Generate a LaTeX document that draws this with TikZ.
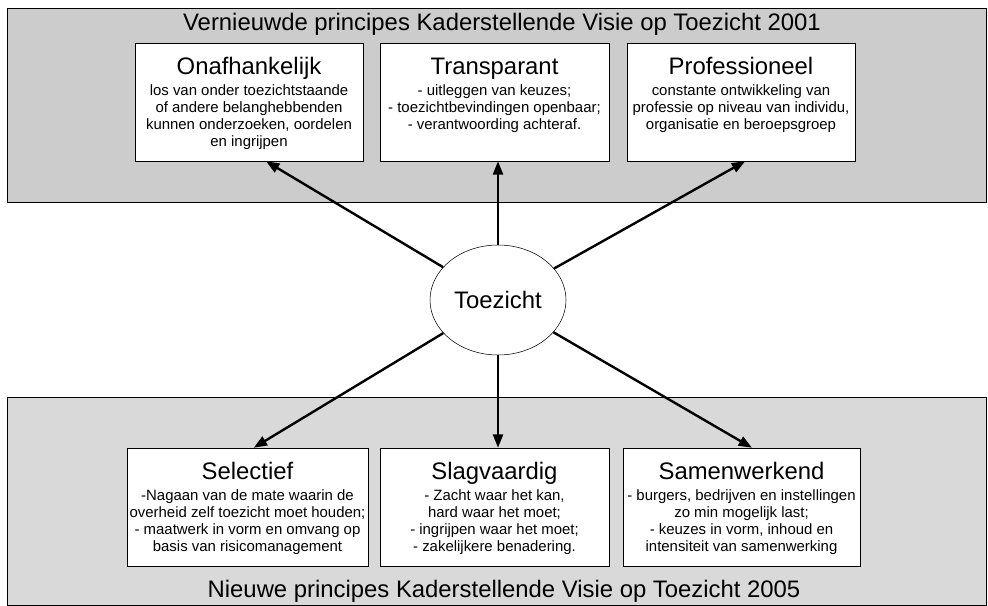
\documentclass[tikz,border=0pt]{standalone}
\usepackage{fontspec}
\setmainfont{Liberation Sans}
\usetikzlibrary{arrows.meta}
\usetikzlibrary{positioning}
\usetikzlibrary{shapes.geometric}

\newcommand{\kopfont}{\fontsize{17.9}{20}\selectfont}
\newcommand{\tekstfont}{\fontsize{11.2}{12.75}\selectfont}
\newcommand{\kader}[3]{\parbox[c][88.5pt][t]{#1}{\centering\tekstfont\vspace*{11pt}{\kopfont #2\par}\vspace{3pt}#3}}

\begin{document}
\begin{tikzpicture}[x=0.75pt,y=-0.75pt,->,>={Triangle[length=10pt,width=7.5pt]},
					font=\tekstfont]
					\tikzstyle{paneel}=[draw,minimum width=734.25pt,inner sep=0pt]
					\tikzstyle{kaderbox}=[draw,fill=white,inner sep=0pt]
					\tikzstyle{titel}=[anchor=base,font=\kopfont]
					\tikzstyle{pijl}=[line width=1.8pt]
					
					\useasboundingbox (0,0) rectangle (988,606);
					
					\node[paneel,fill=gray!40,minimum height=145.5pt] (boven) at (496.5,105) {};
					\node[paneel,fill=gray!30,minimum height=156pt]   (onder) at (496.5,501) {};
					\node[titel] (titel2001) at (502,31)  {Vernieuwde principes Kaderstellende Visie op Toezicht 2001};
					\node[titel] (titel2005) at (504,597) {Nieuwe principes Kaderstellende Visie op Toezicht 2005};
					
					\node[kaderbox] (onaf)   at (249,102)   {\kader{171pt}{Onafhankelijk}{los van onder toezichtstaande\\of andere belanghebbenden\\kunnen onderzoeken, oordelen\\en ingrijpen}};
					\node[kaderbox] (transp) at (494.5,102) {\kader{171.75pt}{Transparant}{- uitleggen van keuzes;\\- toezichtbevindingen openbaar;\\- verantwoording achteraf.}};
					\node[kaderbox] (prof)   at (741,102)   {\kader{171pt}{Professioneel}{constante ontwikkeling van\\professie op niveau van individu,\\organisatie en beroepsgroep}};
					\node[kaderbox] (sel)    at (247.5,507) {\kader{180.75pt}{Selectief}{-Nagaan van de mate waarin de\\overheid zelf toezicht moet houden;\\- maatwerk in vorm en omvang op\\basis van risicomanagement}};
					\node[kaderbox] (slag)   at (494.5,507) {\kader{171.75pt}{Slagvaardig}{- Zacht waar het kan,\\hard waar het moet;\\- ingrijpen waar het moet;\\- zakelijkere benadering.}};
					\node[kaderbox] (samen)  at (741.5,507) {\kader{177.75pt}{Samenwerkend}{- burgers, bedrijven en instellingen\\zo min mogelijk last;\\- keuzes in vorm, inhoud en\\intensiteit van samenwerking}};
					
					\node[ellipse,draw,fill=white,minimum width=102pt,minimum height=82.5pt,inner sep=0pt,font=\kopfont] (toez) at (498,300) {Toezicht};
					
					\path (toez) edge[pijl] (onaf.-74)
					(toez) edge[pijl] (toez |- transp.south)
					(toez) edge[pijl] (prof.-86)
					(toez) edge[pijl] (sel.84)
					(toez) edge[pijl] (toez |- slag.north)
					(toez) edge[pijl] (samen.80)
					;
\end{tikzpicture}
\end{document}
